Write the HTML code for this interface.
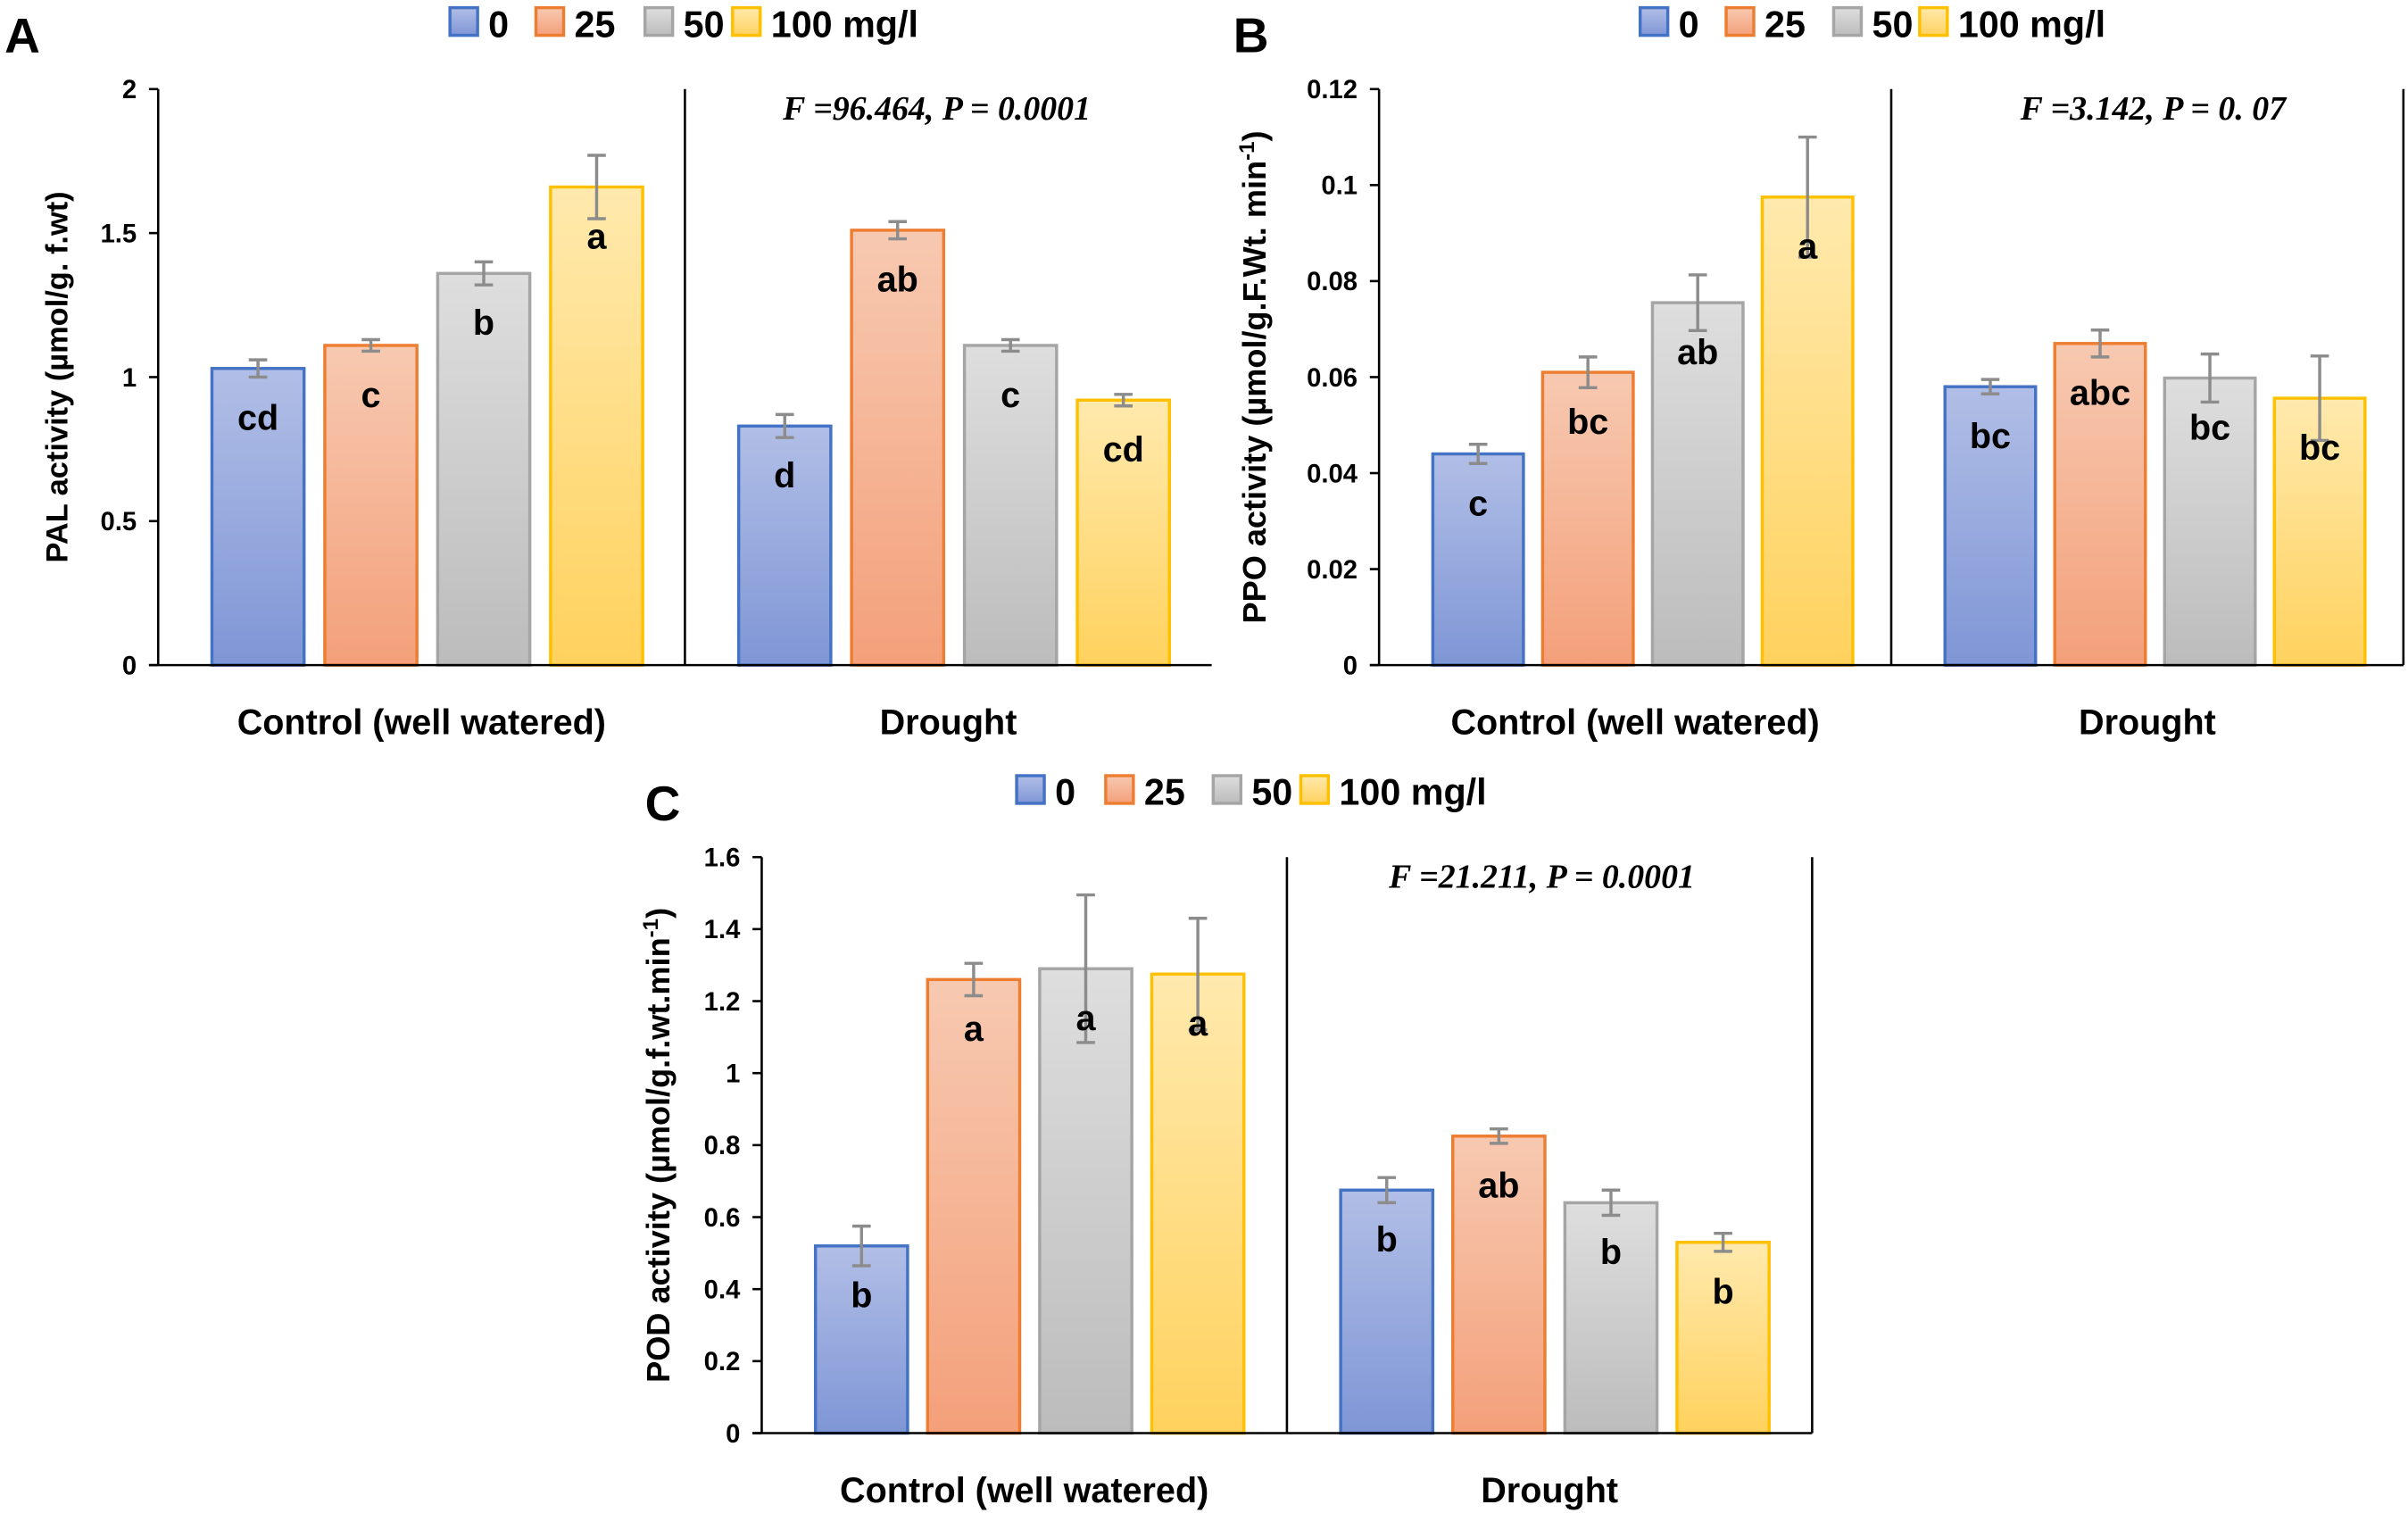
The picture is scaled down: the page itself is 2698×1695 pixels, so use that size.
<!DOCTYPE html>
<html><head><meta charset="utf-8"><style>
html,body{margin:0;padding:0;background:#fff;}
svg{display:block;font-family:"Liberation Sans",sans-serif;}
</style></head><body>
<svg id="fig" width="2698" height="1695" viewBox="0 0 1568 985" preserveAspectRatio="none" xmlns="http://www.w3.org/2000/svg">
<defs>
<linearGradient id="gb" x1="0" y1="0" x2="0" y2="1"><stop offset="0" stop-color="#b1bee6"/><stop offset="1" stop-color="#7f96d6"/></linearGradient>
<linearGradient id="go" x1="0" y1="0" x2="0" y2="1"><stop offset="0" stop-color="#f7c9b1"/><stop offset="1" stop-color="#f4a07a"/></linearGradient>
<linearGradient id="gg" x1="0" y1="0" x2="0" y2="1"><stop offset="0" stop-color="#dedede"/><stop offset="1" stop-color="#bcbcbc"/></linearGradient>
<linearGradient id="gy" x1="0" y1="0" x2="0" y2="1"><stop offset="0" stop-color="#ffe9ad"/><stop offset="1" stop-color="#ffd25e"/></linearGradient>
</defs>
</svg>
<script>
const seriesNames = ['0','25','50','100 mg/l'];
const groups = ['Control (well watered)','Drought'];
// Panel A: PAL
const palValues = [[1.03,1.11,1.36,1.66],[0.83,1.51,1.11,0.92]];
const palErrors = [[0.03,0.02,0.04,0.11],[0.04,0.03,0.02,0.02]];
const palLetters = [['cd','c','b','a'],['d','ab','c','cd']];
const palTicks = [0,0.5,1,1.5,2];
const palTickLabels = ['0','0.5','1','1.5','2'];
// Panel B: PPO
const ppoValues = [[0.044,0.061,0.0755,0.0975],[0.058,0.067,0.0598,0.0556]];
const ppoErrors = [[0.002,0.0032,0.0058,0.0125],[0.0015,0.0028,0.005,0.0088]];
const ppoLetters = [['c','bc','ab','a'],['bc','abc','bc','bc']];
const ppoTicks = [0,0.02,0.04,0.06,0.08,0.1,0.12];
const ppoTickLabels = ['0','0.02','0.04','0.06','0.08','0.1','0.12'];
// Panel C: POD
const podValues = [[0.52,1.26,1.29,1.275],[0.675,0.825,0.64,0.53]];
const podErrors = [[0.055,0.045,0.205,0.155],[0.035,0.02,0.035,0.025]];
const podLetters = [['b','a','a','a'],['b','ab','b','b']];
const podTicks = [0,0.2,0.4,0.6,0.8,1,1.2,1.4,1.6];
const podTickLabels = ['0','0.2','0.4','0.6','0.8','1','1.2','1.4','1.6'];

const svg = document.getElementById('fig');
const NS = 'http://www.w3.org/2000/svg';
const fills = ['url(#gb)','url(#go)','url(#gg)','url(#gy)'];
const strokes = ['#4472c4','#ed7d31','#a5a5a5','#ffc000'];
function mk(tag, attrs, parent){const e=document.createElementNS(NS,tag);for(const k in attrs)e.setAttribute(k,attrs[k]);(parent||svg).appendChild(e);return e;}

function panel(cfg){
  const g = mk('g',{});
  
  
  const y = v => cfg.y0 - (v/cfg.max)*(cfg.y0-cfg.y1);
  const pl = mk('text',{x:cfg.px,y:cfg.py,'font-size':32,'font-weight':'bold',fill:'#000'},g);
  pl.textContent = cfg.letter;
  
  
  seriesNames.forEach((n,i)=>{
    const r = mk('rect',{x:cfg.lx[i],y:cfg.ly-10,width:18,height:18,fill:fills[i],stroke:strokes[i],'stroke-width':2},g);
    
    
    const t = mk('text',{x:cfg.lx[i]+25,y:cfg.ly+9,'font-size':24,'font-weight':'bold',fill:'#000'},g);
    t.textContent = n;
    
    
  });
  cfg.ticks.forEach((v,i)=>{
    const t = mk('text',{x:cfg.ax-14,y:y(v)+6,'font-size':17,'font-weight':'bold','text-anchor':'end',fill:'#000'},g);
    t.textContent = cfg.tickLabels[i];
    
    
    mk('line',{x1:cfg.ax-6,x2:cfg.ax,y1:y(v),y2:y(v),stroke:'#000','stroke-width':1.5},g);
  });
  const yl = mk('text',{x:cfg.ylx,y:(cfg.y0+cfg.y1)/2,'font-size':cfg.ylfs,'font-weight':'bold','text-anchor':'middle',fill:'#000',transform:`rotate(-90 ${cfg.ylx} ${(cfg.y0+cfg.y1)/2})`},g);
  yl.innerHTML = cfg.ylabel;
  
  
  const gw = (cfg.ax2-cfg.ax)/2;
  cfg.values.forEach((grp,gi)=>{
    grp.forEach((v,si)=>{
      const bx = cfg.ax + gi*gw + cfg.off + si*cfg.step;
      const r = mk('rect',{x:bx,y:y(v),width:cfg.bw,height:y(0)-y(v),fill:fills[si],stroke:strokes[si],'stroke-width':2},g);
      
      
      const e = cfg.errors[gi][si], cx = bx+cfg.bw/2;
      const eg = mk('g',{stroke:'#8c8c8c','stroke-width':2},g);
      
      
      mk('line',{x1:cx,x2:cx,y1:y(v+e),y2:y(v-e)},eg);
      mk('line',{x1:cx-6,x2:cx+6,y1:y(v+e),y2:y(v+e)},eg);
      mk('line',{x1:cx-6,x2:cx+6,y1:y(v-e),y2:y(v-e)},eg);
      const lt = mk('text',{x:cx,y:y(v)+40,'font-size':23,'font-weight':'bold','text-anchor':'middle',fill:'#000'},g);
      lt.textContent = cfg.letters[gi][si];
      
      
    });
    const gl = mk('text',{x:cfg.ax+gi*gw+gw/2,y:cfg.y0+45,'font-size':23,'font-weight':'bold','text-anchor':'middle',fill:'#000'},g);
    gl.textContent = groups[gi];
    
    
  });
  mk('line',{x1:cfg.ax,x2:cfg.ax,y1:cfg.y1,y2:cfg.y0,stroke:'#000','stroke-width':1.5},g);
  mk('line',{x1:cfg.ax-6,x2:cfg.ax2,y1:cfg.y0,y2:cfg.y0,stroke:'#000','stroke-width':1.5},g);
  mk('line',{x1:cfg.ax+gw,x2:cfg.ax+gw,y1:cfg.y1,y2:cfg.y0,stroke:'#000','stroke-width':1.5},g);
  if (cfg.rightBorder) mk('line',{x1:cfg.ax2,x2:cfg.ax2,y1:cfg.y1,y2:cfg.y0,stroke:'#000','stroke-width':1.5},g);
  const ft = mk('text',{x:cfg.fx,y:cfg.y1+20,'font-size':22,'font-weight':'bold','font-style':'italic','font-family':'Liberation Serif, serif','text-anchor':'middle',fill:'#000'},g);
  ft.textContent = cfg.ftext;
  
  
}

panel({id:'pal',letter:'A',px:3,py:34,lx:[293,349,420,477],ly:15,ax:103,ax2:789,y0:433,y1:58,max:2,rightBorder:false,
  ticks:palTicks,tickLabels:palTickLabels,values:palValues,errors:palErrors,letters:palLetters,
  off:35,step:73.5,bw:60,ylx:44,ylfs:20,ylabel:'PAL activity (µmol/g. f.wt)',fx:610,ftext:'F =96.464, P = 0.0001'});
panel({id:'ppo',letter:'B',px:803,py:34,lx:[1068,1124,1194,1250],ly:15,ax:898,ax2:1565,y0:433,y1:58,max:0.12,rightBorder:true,
  ticks:ppoTicks,tickLabels:ppoTickLabels,values:ppoValues,errors:ppoErrors,letters:ppoLetters,
  off:35,step:71.5,bw:59,ylx:824,ylfs:21,ylabel:'PPO activity (µmol/g.F.Wt. min<tspan baseline-shift="super" font-size="14">-1</tspan>)',fx:1402,ftext:'F =3.142, P = 0. 07'});
panel({id:'pod',letter:'C',px:420,py:534,lx:[662,720,790,847],ly:515,ax:496,ax2:1180,y0:933,y1:558,max:1.6,rightBorder:true,
  ticks:podTicks,tickLabels:podTickLabels,values:podValues,errors:podErrors,letters:podLetters,
  off:35,step:73,bw:60,ylx:436,ylfs:21,ylabel:'POD activity (µmol/g.f.wt.min<tspan baseline-shift="super" font-size="14">-1</tspan>)',fx:1004,ftext:'F =21.211, P = 0.0001'});
</script>
</body></html>
